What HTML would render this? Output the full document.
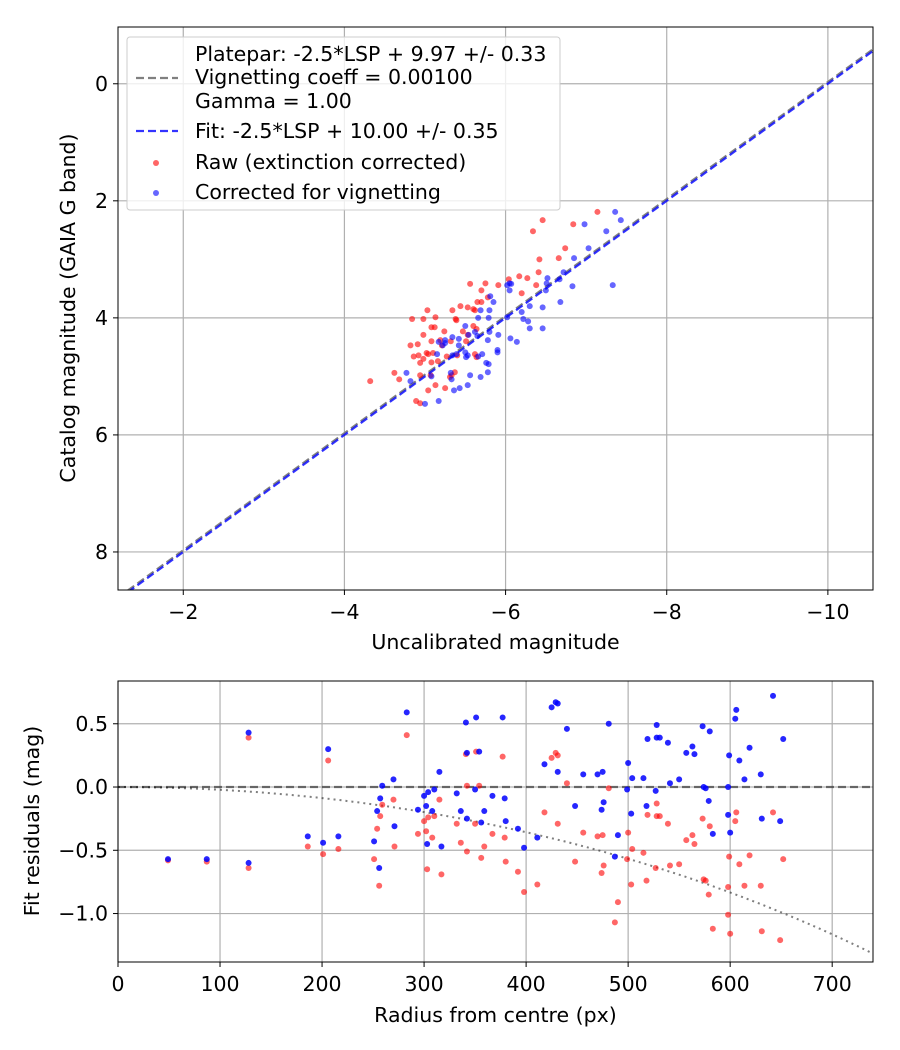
<!DOCTYPE html>
<html><head><meta charset="utf-8"><style>
html,body{margin:0;padding:0;background:#fff;}
svg{display:block;font-family:"DejaVu Sans","Liberation Sans",sans-serif;}
</style></head><body>
<svg id="fig" width="900" height="1050" viewBox="0 0 900 1050" xmlns="http://www.w3.org/2000/svg"></svg>
<script>
// ---- top chart data ----
const redUncal=[-7.14,-6.46,-6.34,-6.84,-6.74,-6.42,-6.66,-6.41,-6.27,-6.38,-6.20,-6.04,-6.17,-5.91,-5.75,-5.56,-5.70,-5.78,-5.65,-5.70,-5.53,-5.44,-5.34,-5.03,-4.84,-4.98,-5.13,-5.38,-5.39,-5.60,-5.62,-5.08,-5.12,-4.98,-5.24,-5.47,-5.60,-5.64,-5.53,-4.82,-4.91,-5.08,-5.19,-5.21,-5.32,-5.51,-4.86,-4.92,-5.02,-5.04,-5.10,-4.94,-4.98,-5.08,-5.16,-5.27,-5.40,-5.62,-5.64,-4.62,-4.68,-4.94,-5.07,-5.37,-5.33,-5.31,-5.13,-5.04,-5.25,-4.89,-4.94,-4.32];
const redCat=[2.19,2.33,2.52,2.40,2.81,3.00,2.98,3.22,3.32,3.44,3.58,3.34,3.29,3.44,3.41,3.42,3.53,3.65,3.73,3.73,3.82,3.80,3.87,3.87,4.02,4.02,3.99,4.02,4.04,3.85,3.87,4.16,4.16,4.29,4.23,4.23,4.14,4.19,4.29,4.47,4.45,4.40,4.38,4.47,4.40,4.40,4.66,4.64,4.60,4.62,4.60,4.77,4.70,4.76,4.74,4.66,4.64,4.62,4.67,4.94,5.05,4.98,4.98,4.93,4.98,5.01,5.15,5.24,5.20,5.42,5.46,5.08];
const blueUncal=[-7.36,-7.43,-6.98,-7.25,-7.03,-6.85,-6.72,-6.67,-6.52,-6.51,-6.50,-7.33,-6.83,-6.68,-6.46,-6.30,-6.20,-6.28,-6.30,-6.46,-6.22,-6.14,-6.06,-6.02,-6.05,-6.05,-6.02,-6.07,-5.85,-5.81,-5.80,-5.69,-5.66,-5.79,-5.91,-5.80,-5.78,-5.90,-5.90,-5.71,-5.76,-5.79,-5.66,-5.53,-5.50,-5.54,-5.62,-5.65,-5.42,-5.42,-5.34,-5.25,-5.25,-5.17,-5.15,-5.22,-5.34,-5.39,-5.50,-5.51,-4.77,-4.82,-5.08,-5.32,-5.33,-5.56,-5.69,-5.78,-5.53,-5.43,-5.36,-5.17,-5.00];
const blueCat=[2.19,2.33,2.40,2.52,2.81,2.98,3.22,3.34,3.32,3.41,3.53,3.44,3.46,3.73,3.82,3.80,3.90,4.06,4.18,4.18,4.02,4.41,4.35,3.99,3.53,3.41,3.44,3.42,3.73,3.63,3.87,3.87,4.00,4.00,4.29,4.24,4.38,4.55,4.59,4.62,4.77,4.79,4.66,4.64,4.14,4.29,4.24,4.31,4.47,4.36,4.33,4.38,4.43,4.41,4.62,4.47,4.64,4.62,4.59,4.67,4.94,5.08,5.00,4.94,5.05,4.98,5.01,4.93,5.15,5.20,5.24,5.42,5.47];
const platparZp=9.97, fitZp=10.00;
const topXTicks=[-2,-4,-6,-8,-10], topYTicks=[0,2,4,6,8];
// ---- bottom chart data ----
const radius=[49,87,128,128,206,186,201,216,283,251,256,259,257,254,270,271,300,304,310,302,294,308,303,317,315,341,351,342,354,332,350,336,342,356,359,367,377,379,380,392,398,411,418,425,429,431,440,431,448,456,470,475,476,474,481,490,487,500,499,504,503,515,518,519,528,528,531,527,539,541,550,557,563,565,573,580,574,576,579,583,598,599,598,600,605,606,609,614,619,630,631,642,652,649];
const blueRes=[-0.57,-0.57,0.43,-0.60,0.30,-0.39,-0.44,-0.39,0.59,-0.43,-0.64,0.01,-0.09,-0.19,0.06,-0.31,-0.07,-0.04,-0.02,-0.15,-0.18,-0.19,-0.45,-0.47,0.12,0.51,0.55,0.27,0.28,-0.05,-0.02,-0.19,-0.25,-0.28,-0.19,-0.07,0.55,-0.09,-0.27,-0.33,-0.48,-0.40,0.18,0.63,0.67,0.66,0.46,0.12,-0.15,0.10,0.10,0.12,-0.12,-0.18,0.50,-0.38,-0.55,0.19,-0.02,0.07,-0.21,0.07,-0.15,0.38,0.49,0.39,0.39,-0.03,0.35,0.03,0.06,0.27,0.32,0.26,0.48,0.44,0.00,-0.01,-0.11,-0.37,0.00,0.25,-0.22,-0.36,0.54,0.61,0.21,0.06,0.31,0.10,-0.25,0.72,0.38,-0.27];
const redRes=[-0.58,-0.59,0.39,-0.64,0.21,-0.47,-0.53,-0.49,0.41,-0.57,-0.78,-0.14,-0.23,-0.33,-0.10,-0.47,-0.27,-0.24,-0.23,-0.35,-0.37,-0.40,-0.65,-0.69,-0.10,0.26,0.28,0.01,0.01,-0.29,-0.29,-0.44,-0.51,-0.56,-0.47,-0.37,0.24,-0.40,-0.59,-0.67,-0.83,-0.77,-0.20,0.23,0.27,0.25,0.03,-0.29,-0.59,-0.36,-0.39,-0.38,-0.62,-0.68,-0.01,-0.91,-1.07,-0.36,-0.57,-0.49,-0.77,-0.52,-0.74,-0.22,-0.13,-0.23,-0.23,-0.64,-0.29,-0.62,-0.61,-0.42,-0.38,-0.45,-0.25,-0.31,-0.73,-0.74,-0.85,-1.12,-0.79,-0.55,-1.01,-1.16,-0.27,-0.20,-0.61,-0.78,-0.54,-0.78,-1.14,-0.20,-0.57,-1.21];
const vigCoeff=0.001;
const botXTicks=[0,100,200,300,400,500,600,700], botYTicks=[0.5,0.0,-0.5,-1.0];
const botYLabels=["0.5","0.0","\u22120.5","\u22121.0"];

const FS='20.5';
const NS="http://www.w3.org/2000/svg", svg=document.getElementById('fig');
function mk(tag,attrs,parent){const e=document.createElementNS(NS,tag);for(const k in attrs)e.setAttribute(k,attrs[k]);(parent||svg).appendChild(e);return e;}
function txt(s,x,y,anchor,parent,extra){const e=mk('text',Object.assign({x:x,y:y,'text-anchor':anchor,'font-size':FS,'fill':'#000'},extra||{}),parent);e.textContent=s;return e;}
const minus=v=>String(v).replace('-','\u2212');

// ===== TOP =====
const T={l:118,t:27,r:873,b:590,x0:-1.19,x1:-10.56,y0:-0.97,y1:8.65};
const tx=v=>T.l+(v-T.x0)/(T.x1-T.x0)*(T.r-T.l);
const ty=v=>T.t+(v-T.y0)/(T.y1-T.y0)*(T.b-T.t);
const gTop=mk('g',{});


mk('defs',{}).innerHTML='<clipPath id="ct"><rect x="118" y="27" width="755" height="563"/></clipPath><clipPath id="cb"><rect x="118" y="681" width="755" height="281"/></clipPath>';
topXTicks.forEach(v=>{const l=mk('line',{x1:tx(v),x2:tx(v),y1:T.t,y2:T.b,stroke:'#b0b0b0','stroke-width':1.2},gTop);
 mk('line',{x1:tx(v),x2:tx(v),y1:T.b,y2:T.b+5,stroke:'#000'},gTop);
 const t=txt(minus(v),tx(v),T.b+29,'middle',gTop);});
topYTicks.forEach(v=>{const l=mk('line',{x1:T.l,x2:T.r,y1:ty(v),y2:ty(v),stroke:'#b0b0b0','stroke-width':1.2},gTop);
 mk('line',{x1:T.l-5,x2:T.l,y1:ty(v),y2:ty(v),stroke:'#000'},gTop);
 const t=txt(String(v),T.l-10,ty(v)+7,'end',gTop);});
const cT=mk('g',{'clip-path':'url(#ct)'},gTop);
const lp=mk('line',{x1:tx(T.x0),y1:ty(T.x0+platparZp),x2:tx(T.x1),y2:ty(T.x1+platparZp),stroke:'#808080','stroke-width':2.2,'stroke-dasharray':'8,4'},cT);

redUncal.forEach((x,i)=>{const c=mk('circle',{cx:tx(x),cy:ty(redCat[i]),r:3,fill:'#ff0000','fill-opacity':0.6},cT);});
blueUncal.forEach((x,i)=>{const c=mk('circle',{cx:tx(x),cy:ty(blueCat[i]),r:3,fill:'#0000ff','fill-opacity':0.6},cT);});
const lf=mk('line',{x1:tx(T.x0),y1:ty(T.x0+fitZp),x2:tx(T.x1),y2:ty(T.x1+fitZp),stroke:'#0000ff','stroke-opacity':0.8,'stroke-width':2.2,'stroke-dasharray':'8,4'},cT);

const fT=mk('rect',{x:T.l,y:T.t,width:T.r-T.l,height:T.b-T.t,fill:'none',stroke:'#000','stroke-width':1},gTop);

const xt=txt('Uncalibrated magnitude',(T.l+T.r)/2,649,'middle',gTop);
const yt=txt('Catalog magnitude (GAIA G band)',0,0,'middle',gTop,{transform:'translate(75,308) rotate(-90)'});
// legend
const lg=mk('g',{},gTop);
mk('rect',{x:127,y:37,width:433,height:173,rx:3,fill:'#fff','fill-opacity':0.8,stroke:'#cccccc'},lg);
mk('line',{x1:136,x2:178,y1:78,y2:78,stroke:'#808080','stroke-width':2.2,'stroke-dasharray':'8,4'},lg);
mk('line',{x1:136,x2:178,y1:131,y2:131,stroke:'#0000ff','stroke-opacity':0.8,'stroke-width':2.2,'stroke-dasharray':'8,4'},lg);
mk('circle',{cx:156,cy:163,r:3,fill:'#ff0000','fill-opacity':0.6},lg);
mk('circle',{cx:156,cy:193,r:3,fill:'#0000ff','fill-opacity':0.6},lg);
[['Platepar: -2.5*LSP + 9.97 +/- 0.33',61],['Vignetting coeff = 0.00100',84],['Gamma = 1.00',108],['Fit: -2.5*LSP + 10.00 +/- 0.35',138],['Raw (extinction corrected)',169],['Corrected for vignetting',199]].forEach(a=>{const t=txt(a[0],195,a[1],'start',lg,{'font-size':'20.5'});});

// ===== BOTTOM =====
const B={l:118,t:681,r:873,b:962,x0:0,x1:740,y0:0.838,y1:-1.383};
const bx=v=>B.l+(v-B.x0)/(B.x1-B.x0)*(B.r-B.l);
const by=v=>B.t+(v-B.y0)/(B.y1-B.y0)*(B.b-B.t);
const gB=mk('g',{});
botXTicks.forEach(v=>{const l=mk('line',{x1:bx(v),x2:bx(v),y1:B.t,y2:B.b,stroke:'#b0b0b0','stroke-width':1.2},gB);
 mk('line',{x1:bx(v),x2:bx(v),y1:B.b,y2:B.b+5,stroke:'#000'},gB);
 const t=txt(String(v),bx(v),B.b+29,'middle',gB);});
botYTicks.forEach((v,i)=>{const l=mk('line',{x1:B.l,x2:B.r,y1:by(v),y2:by(v),stroke:'#b0b0b0','stroke-width':1.2},gB);
 mk('line',{x1:B.l-5,x2:B.l,y1:by(v),y2:by(v),stroke:'#000'},gB);
 const t=txt(botYLabels[i],B.l-10,by(v)+7,'end',gB);});
const cB=mk('g',{'clip-path':'url(#cb)'},gB);
const zl=mk('line',{x1:B.l,x2:B.r,y1:by(0),y2:by(0),stroke:'#000','stroke-opacity':0.5,'stroke-width':2.2,'stroke-dasharray':'8,4'},cB);

let d='';for(let r=0;r<=740;r+=5){d+=(r?'L':'M')+bx(r).toFixed(1)+','+by(10*Math.log10(Math.cos(vigCoeff*r))).toFixed(1);}
const vc=mk('path',{d:d,fill:'none',stroke:'#000','stroke-opacity':0.5,'stroke-width':2,'stroke-dasharray':'2,4'},cB);

radius.forEach((r,i)=>{const c=mk('circle',{cx:bx(r),cy:by(redRes[i]),r:3,fill:'#ff0000','fill-opacity':0.6},cB);});
radius.forEach((r,i)=>{const c=mk('circle',{cx:bx(r),cy:by(blueRes[i]),r:3,fill:'#0000ff','fill-opacity':0.85},cB);});
const fB=mk('rect',{x:B.l,y:B.t,width:B.r-B.l,height:B.b-B.t,fill:'none',stroke:'#000','stroke-width':1},gB);

const bxt=txt('Radius from centre (px)',(B.l+B.r)/2,1022,'middle',gB);
const byt=txt('Fit residuals (mag)',0,0,'middle',gB,{transform:'translate(39,821) rotate(-90)'});
</script>
</body></html>
